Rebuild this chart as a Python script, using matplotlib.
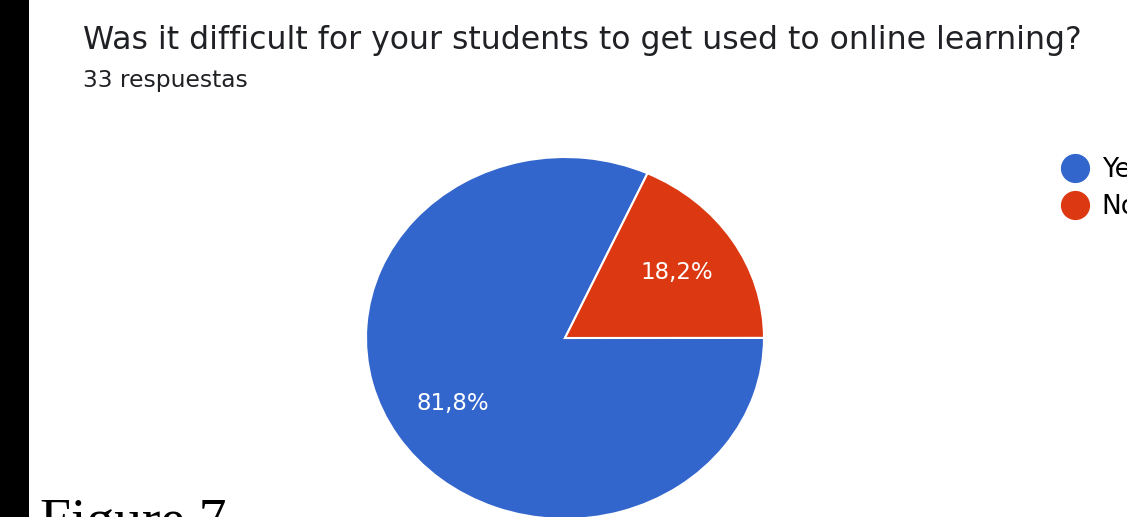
import matplotlib.pyplot as plt
from matplotlib.patches import Rectangle
from matplotlib.lines import Line2D

W, H = 1127, 517

labels = ["Yes", "No"]
counts = [27, 6]
colors = ["#3366CC", "#DC3912"]

title = "Was it difficult for your students to get used to online learning?"
subtitle = "33 respuestas"

plt.rcParams['font.family'] = ['DejaVu Sans']

fig = plt.figure(figsize=(W / 100, H / 100), dpi=100)
fig.patch.set_facecolor("white")

# black strip down the left edge
fig.patches.append(Rectangle((0, 0), 29 / W, 1, transform=fig.transFigure,
                             facecolor="black", edgecolor="none"))

fig.text(83 / W, 1 - 49 / H, title, fontsize=22.7, color="#202124")
fig.text(83 / W, 1 - 87 / H, subtitle, fontsize=16.8, color="#202124")

# pie axes: centre (565, 338) px, radii 199 x 181 px (slightly squashed)
cx, cy, rx, ry = 565, 338, 199, 181
ax = fig.add_axes([(cx - rx) / W, (H - cy - ry) / H, 2 * rx / W, 2 * ry / H])
wedges, texts, autotexts = ax.pie(
    counts, colors=colors, startangle=65.5, counterclock=True,
    autopct=lambda p: f"{p:.1f}%".replace(".", ","),
    pctdistance=0.67,
    wedgeprops=dict(edgecolor="white", linewidth=1.5),
    textprops=dict(color="white", fontsize=16.5),
)
ax.set_xlim(-1, 1)
ax.set_ylim(-1, 1)
ax.set_aspect("auto")
ax.axis("off")

handles = [Line2D([], [], marker="o", linestyle="none", markersize=20,
                  markerfacecolor=c, markeredgecolor=c) for c in colors]
fig.legend(handles, labels, loc="upper left",
           bbox_to_anchor=(1049 / W, 1 - 157 / H),
           frameon=False, fontsize=19, handletextpad=0.0,
           labelspacing=0.42, borderaxespad=0, borderpad=0)

fig.text(40 / W, 1 - 538 / H, "Figure 7", fontsize=40,
         family="Liberation Serif", color="black")

fig.savefig("out.png", dpi=100)
